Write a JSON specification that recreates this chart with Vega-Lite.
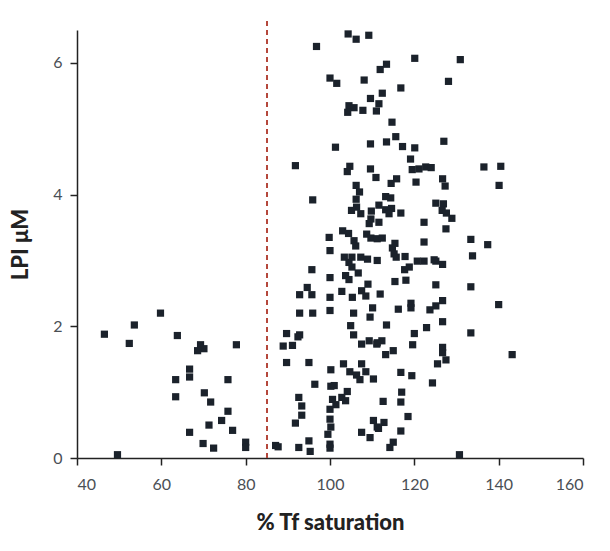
{
  "$schema": "https://vega.github.io/schema/vega-lite/v6.json",
  "width": 506,
  "height": 428,
  "autosize": "none",
  "padding": {"left": 77, "top": 30, "right": 27, "bottom": 93},
  "config": {
    "view": {"stroke": null},
    "axis": {
      "grid": false,
      "domainColor": "#222",
      "domainWidth": 1.5,
      "tickColor": "#222",
      "tickWidth": 1.5,
      "tickSize": 7,
      "labelColor": "#4a4f55",
      "labelFont": "Lato",
      "labelFontSize": 16,
      "titleFont": "Lato",
      "titleFontSize": 22,
      "titleFontWeight": 900,
      "titleColor": "#222"
    }
  },
  "data": {
    "values": [
      {"tf": 46.5, "lpi": 1.88}, {"tf": 53.6, "lpi": 2.02}, {"tf": 59.8, "lpi": 2.2}, {"tf": 52.4, "lpi": 1.74},
      {"tf": 63.8, "lpi": 1.86}, {"tf": 69.3, "lpi": 1.72}, {"tf": 70.1, "lpi": 1.66}, {"tf": 68.6, "lpi": 1.63},
      {"tf": 77.8, "lpi": 1.72}, {"tf": 66.7, "lpi": 1.35}, {"tf": 66.7, "lpi": 1.23}, {"tf": 63.4, "lpi": 1.19},
      {"tf": 75.8, "lpi": 1.19}, {"tf": 63.4, "lpi": 0.93}, {"tf": 70.2, "lpi": 0.99}, {"tf": 71.7, "lpi": 0.85},
      {"tf": 75.8, "lpi": 0.71}, {"tf": 74.3, "lpi": 0.57}, {"tf": 71.3, "lpi": 0.5}, {"tf": 66.7, "lpi": 0.39},
      {"tf": 76.9, "lpi": 0.42}, {"tf": 69.9, "lpi": 0.22}, {"tf": 72.4, "lpi": 0.15}, {"tf": 80.0, "lpi": 0.24},
      {"tf": 80.0, "lpi": 0.16}, {"tf": 49.6, "lpi": 0.05}, {"tf": 87.1, "lpi": 0.19}, {"tf": 87.7, "lpi": 0.17},

      {"tf": 104.3, "lpi": 6.44}, {"tf": 106.2, "lpi": 6.36}, {"tf": 109.2, "lpi": 6.42}, {"tf": 96.8, "lpi": 6.25},
      {"tf": 113.4, "lpi": 5.98}, {"tf": 111.9, "lpi": 5.9}, {"tf": 100.0, "lpi": 5.77}, {"tf": 101.6, "lpi": 5.69},
      {"tf": 108.1, "lpi": 5.74}, {"tf": 116.8, "lpi": 5.62}, {"tf": 112.4, "lpi": 5.54}, {"tf": 109.6, "lpi": 5.46},
      {"tf": 111.6, "lpi": 5.38}, {"tf": 104.5, "lpi": 5.35}, {"tf": 105.7, "lpi": 5.32}, {"tf": 104.2, "lpi": 5.25},
      {"tf": 107.8, "lpi": 5.28}, {"tf": 111.0, "lpi": 5.27}, {"tf": 114.7, "lpi": 5.1}, {"tf": 115.6, "lpi": 4.88},
      {"tf": 113.4, "lpi": 4.8}, {"tf": 109.6, "lpi": 4.77}, {"tf": 101.3, "lpi": 4.72}, {"tf": 117.2, "lpi": 4.73},
      {"tf": 91.8, "lpi": 4.44}, {"tf": 104.7, "lpi": 4.43}, {"tf": 109.6, "lpi": 4.39}, {"tf": 120.1, "lpi": 6.07},
      {"tf": 130.9, "lpi": 6.05}, {"tf": 128.1, "lpi": 5.72}, {"tf": 120.1, "lpi": 4.71}, {"tf": 127.0, "lpi": 4.81},
      {"tf": 119.1, "lpi": 4.54}, {"tf": 122.7, "lpi": 4.42}, {"tf": 124.0, "lpi": 4.41}, {"tf": 121.1, "lpi": 4.39},
      {"tf": 119.5, "lpi": 4.38}, {"tf": 136.5, "lpi": 4.42}, {"tf": 140.5, "lpi": 4.43},

      {"tf": 104.1, "lpi": 4.35}, {"tf": 110.9, "lpi": 4.26}, {"tf": 106.2, "lpi": 4.14}, {"tf": 107.0, "lpi": 4.04},
      {"tf": 95.9, "lpi": 3.92}, {"tf": 106.2, "lpi": 3.93}, {"tf": 106.3, "lpi": 3.81}, {"tf": 105.1, "lpi": 3.76},
      {"tf": 107.3, "lpi": 3.71}, {"tf": 109.8, "lpi": 3.75}, {"tf": 111.6, "lpi": 3.84}, {"tf": 109.7, "lpi": 3.63},
      {"tf": 109.3, "lpi": 3.56}, {"tf": 111.6, "lpi": 3.58}, {"tf": 103.0, "lpi": 3.45}, {"tf": 104.4, "lpi": 3.41},
      {"tf": 99.8, "lpi": 3.35}, {"tf": 105.7, "lpi": 3.3}, {"tf": 106.1, "lpi": 3.22}, {"tf": 108.7, "lpi": 3.4},
      {"tf": 109.7, "lpi": 3.34}, {"tf": 111.2, "lpi": 3.33}, {"tf": 100.0, "lpi": 3.15},

      {"tf": 115.8, "lpi": 4.24}, {"tf": 114.5, "lpi": 4.17}, {"tf": 120.4, "lpi": 4.19}, {"tf": 126.7, "lpi": 4.24},
      {"tf": 127.3, "lpi": 4.13}, {"tf": 113.2, "lpi": 3.97}, {"tf": 114.4, "lpi": 3.95}, {"tf": 113.2, "lpi": 3.77},
      {"tf": 114.6, "lpi": 3.79}, {"tf": 114.0, "lpi": 3.71}, {"tf": 116.8, "lpi": 3.72}, {"tf": 125.1, "lpi": 3.87},
      {"tf": 126.9, "lpi": 3.86}, {"tf": 126.6, "lpi": 3.76}, {"tf": 127.6, "lpi": 3.72}, {"tf": 128.9, "lpi": 3.64},
      {"tf": 122.3, "lpi": 3.58}, {"tf": 127.5, "lpi": 3.48}, {"tf": 112.4, "lpi": 3.34}, {"tf": 115.4, "lpi": 3.26},
      {"tf": 114.8, "lpi": 3.19}, {"tf": 122.3, "lpi": 3.28}, {"tf": 133.4, "lpi": 3.32}, {"tf": 115.2, "lpi": 3.1},
      {"tf": 115.7, "lpi": 3.05}, {"tf": 117.8, "lpi": 3.06}, {"tf": 133.8, "lpi": 3.07},

      {"tf": 103.4, "lpi": 3.05}, {"tf": 105.2, "lpi": 3.05}, {"tf": 107.3, "lpi": 3.05}, {"tf": 108.9, "lpi": 3.02},
      {"tf": 104.5, "lpi": 2.97}, {"tf": 105.2, "lpi": 2.9}, {"tf": 95.7, "lpi": 2.86}, {"tf": 100.0, "lpi": 2.74},
      {"tf": 103.7, "lpi": 2.77}, {"tf": 104.5, "lpi": 2.71}, {"tf": 106.7, "lpi": 2.81}, {"tf": 109.0, "lpi": 2.64},
      {"tf": 94.6, "lpi": 2.59}, {"tf": 95.7, "lpi": 2.48}, {"tf": 92.8, "lpi": 2.48}, {"tf": 102.8, "lpi": 2.53},
      {"tf": 100.0, "lpi": 2.44}, {"tf": 105.3, "lpi": 2.44}, {"tf": 107.5, "lpi": 2.54}, {"tf": 108.5, "lpi": 2.46},
      {"tf": 111.9, "lpi": 2.49}, {"tf": 100.0, "lpi": 2.24}, {"tf": 92.8, "lpi": 2.2}, {"tf": 95.9, "lpi": 2.2},
      {"tf": 105.6, "lpi": 2.2}, {"tf": 110.1, "lpi": 2.28}, {"tf": 109.5, "lpi": 2.14}, {"tf": 104.9, "lpi": 2.01},
      {"tf": 89.7, "lpi": 1.89}, {"tf": 92.8, "lpi": 1.87}, {"tf": 92.4, "lpi": 1.84}, {"tf": 105.6, "lpi": 1.87},
      {"tf": 88.9, "lpi": 1.7}, {"tf": 91.1, "lpi": 1.71}, {"tf": 107.5, "lpi": 1.73}, {"tf": 109.3, "lpi": 1.78},
      {"tf": 111.1, "lpi": 1.73},

      {"tf": 111.2, "lpi": 3.0}, {"tf": 120.7, "lpi": 2.99}, {"tf": 122.3, "lpi": 2.99}, {"tf": 124.7, "lpi": 3.01},
      {"tf": 125.1, "lpi": 2.99}, {"tf": 126.7, "lpi": 2.94}, {"tf": 118.8, "lpi": 2.9}, {"tf": 117.7, "lpi": 2.86},
      {"tf": 115.4, "lpi": 2.68}, {"tf": 118.0, "lpi": 2.7}, {"tf": 125.1, "lpi": 2.63}, {"tf": 133.4, "lpi": 2.6},
      {"tf": 119.2, "lpi": 2.35}, {"tf": 119.2, "lpi": 2.28}, {"tf": 116.2, "lpi": 2.26}, {"tf": 123.7, "lpi": 2.25},
      {"tf": 125.1, "lpi": 2.31}, {"tf": 126.7, "lpi": 2.39}, {"tf": 113.4, "lpi": 2.02}, {"tf": 122.9, "lpi": 1.98},
      {"tf": 126.7, "lpi": 2.07}, {"tf": 133.4, "lpi": 1.9}, {"tf": 120.0, "lpi": 1.89}, {"tf": 112.3, "lpi": 1.78},
      {"tf": 111.2, "lpi": 1.75}, {"tf": 119.6, "lpi": 1.72}, {"tf": 126.7, "lpi": 1.68}, {"tf": 126.7, "lpi": 1.6},
      {"tf": 115.0, "lpi": 1.63}, {"tf": 113.2, "lpi": 1.57},

      {"tf": 89.7, "lpi": 1.45}, {"tf": 95.0, "lpi": 1.45}, {"tf": 100.2, "lpi": 1.34}, {"tf": 103.2, "lpi": 1.43},
      {"tf": 107.5, "lpi": 1.43}, {"tf": 104.7, "lpi": 1.31}, {"tf": 106.3, "lpi": 1.26}, {"tf": 107.1, "lpi": 1.19},
      {"tf": 108.5, "lpi": 1.31}, {"tf": 110.3, "lpi": 1.2}, {"tf": 96.4, "lpi": 1.12}, {"tf": 100.2, "lpi": 1.09},
      {"tf": 101.0, "lpi": 1.1}, {"tf": 104.1, "lpi": 1.01}, {"tf": 92.6, "lpi": 0.92}, {"tf": 100.6, "lpi": 0.89},
      {"tf": 101.4, "lpi": 0.81}, {"tf": 102.8, "lpi": 0.92}, {"tf": 103.7, "lpi": 0.87}, {"tf": 100.0, "lpi": 0.74},
      {"tf": 93.3, "lpi": 0.79}, {"tf": 93.3, "lpi": 0.65}, {"tf": 91.8, "lpi": 0.53}, {"tf": 100.0, "lpi": 0.59},
      {"tf": 100.2, "lpi": 0.47}, {"tf": 99.5, "lpi": 0.36}, {"tf": 110.3, "lpi": 0.57}, {"tf": 111.2, "lpi": 0.47},
      {"tf": 107.5, "lpi": 0.39}, {"tf": 109.5, "lpi": 0.31}, {"tf": 95.0, "lpi": 0.26}, {"tf": 92.6, "lpi": 0.16},
      {"tf": 95.3, "lpi": 0.1}, {"tf": 100.0, "lpi": 0.21}, {"tf": 100.0, "lpi": 0.15},

      {"tf": 127.5, "lpi": 1.49}, {"tf": 125.5, "lpi": 1.43}, {"tf": 116.8, "lpi": 1.3}, {"tf": 119.4, "lpi": 1.25},
      {"tf": 124.3, "lpi": 1.14}, {"tf": 117.0, "lpi": 1.0}, {"tf": 112.6, "lpi": 0.86}, {"tf": 116.8, "lpi": 0.85},
      {"tf": 118.5, "lpi": 0.63}, {"tf": 112.8, "lpi": 0.54}, {"tf": 111.5, "lpi": 0.45}, {"tf": 116.8, "lpi": 0.41},
      {"tf": 115.0, "lpi": 0.24}, {"tf": 114.2, "lpi": 0.16}, {"tf": 130.7, "lpi": 0.05},

      {"tf": 140.1, "lpi": 4.14}, {"tf": 137.4, "lpi": 3.24}, {"tf": 140.0, "lpi": 2.33}, {"tf": 143.2, "lpi": 1.57}
    ]
  },
  "layer": [
    {
      "mark": {"type": "rule", "color": "#b5483c", "strokeDash": [5, 4], "strokeWidth": 1.3, "clip": false},
      "encoding": {
        "x": {"datum": 85, "type": "quantitative"},
        "y": {"datum": 0, "type": "quantitative"},
        "y2": {"datum": 6.65}
      }
    },
    {
      "mark": {"type": "square", "size": 52, "filled": true, "color": "#1b222b", "opacity": 1},
      "encoding": {
        "x": {
          "field": "tf",
          "type": "quantitative",
          "scale": {"domain": [40, 160], "nice": false, "zero": false},
          "axis": {"values": [40, 60, 80, 100, 120, 140, 160], "title": "% Tf saturation", "labelPadding": 11, "titlePadding": 20}
        },
        "y": {
          "field": "lpi",
          "type": "quantitative",
          "scale": {"domain": [0, 6.5], "nice": false},
          "axis": {"values": [0, 2, 4, 6], "format": "d", "title": "LPI μM", "labelPadding": 8, "titlePadding": 20}
        }
      }
    }
  ]
}
